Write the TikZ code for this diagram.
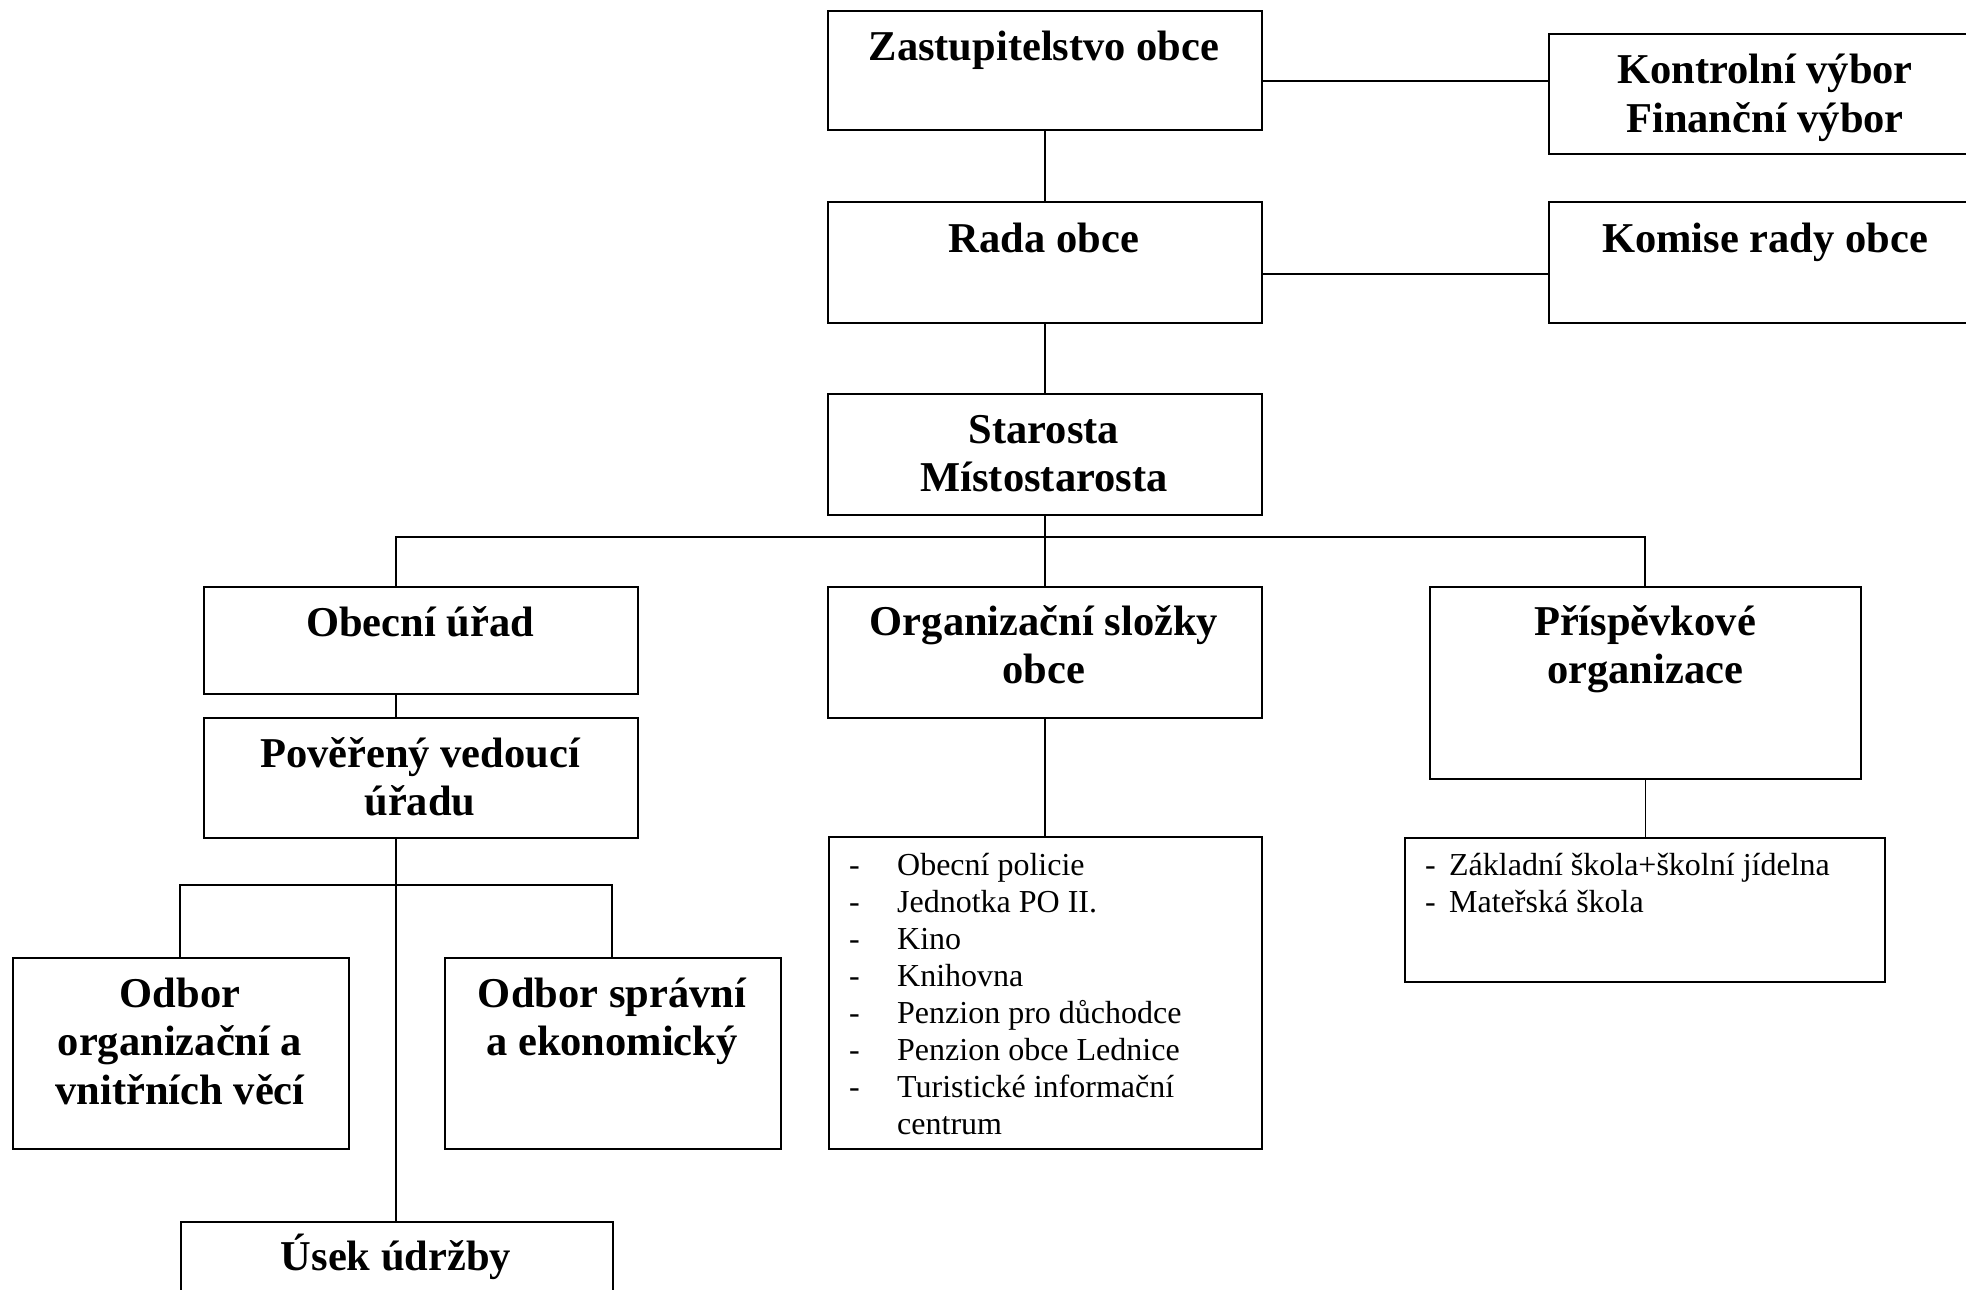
\documentclass[tikz,border=0pt]{standalone}
\usepackage{fontspec}
\setmainfont{Liberation Serif}
\newcommand{\ctab}[1]{\begin{tabular}[t]{@{}c@{}}#1\end{tabular}}
\newcommand{\ltab}[2]{\begin{tabular}[t]{@{}l@{}l@{}}#2\end{tabular}}
\newcommand{\bx}[5]{\node[box,minimum width=#4pt,minimum height=#5pt] (#1) at (#2,#3) {};}
\begin{document}
\begin{tikzpicture}[x=1pt,y=-1pt,
  box/.style={draw,line width=2pt,inner sep=0pt,anchor=north west},
  conn/.style={line width=1.8pt},
  ttl/.style={anchor=base,inner sep=0pt,font=\fontsize{42.5}{48.5}\selectfont\bfseries},
  lst/.style={anchor=base west,inner sep=0pt,font=\fontsize{32}{37}\selectfont}]
\path[use as bounding box] (0,0) rectangle (1966,1290);
\clip (0,0) rectangle (1966,1290);
\fill[white] (0,0) rectangle (1966,1290);
% boxes
\bx{zast}{827}{10}{434}{119}
\bx{kontrol}{1548}{33}{434}{120}
\bx{rada}{827}{201}{434}{121}
\bx{komise}{1548}{201}{434}{121}
\bx{starosta}{827}{393}{434}{121}
\bx{obecni}{203}{586}{434}{107}
\bx{orgsl}{827}{586}{434}{131}
\bx{prisp}{1429}{586}{431}{192}
\bx{poveren}{203}{717}{434}{120}
\bx{orglist}{828}{836}{433}{312}
\bx{prlist}{1404}{837}{480}{144}
\bx{odbororg}{12}{957}{336}{191}
\bx{odborspr}{444}{957}{336}{191}
\bx{usek}{180}{1221}{432}{110}
% helper coordinates
\coordinate (yzk) at (0,81);
\coordinate (yrk) at (0,274);
\coordinate (busL) at (396,537);
\coordinate (busR) at (1645,537);
\coordinate (bus2L) at (180,885);
\coordinate (bus2M) at (396,885);
\coordinate (bus2R) at (612,885);
% connectors
\draw[conn] (zast.east |- yzk) -- (kontrol.west |- yzk);
\draw[conn] (rada.east |- yrk) -- (komise.west |- yrk);
\draw[conn] (zast.south) -- (rada.north);
\draw[conn] (rada.south) -- (starosta.north);
\draw[conn] (starosta.south) -- (orgsl.north);
\draw[conn] (obecni.north -| busL) -- (busL) -- (busR) -- (prisp.north -| busR);
\draw[conn] (obecni.south -| busL) -- (poveren.north -| busL);
\draw[conn] (poveren.south -| busL) -- (usek.north -| busL);
\draw[conn] (odbororg.north -| bus2L) -- (bus2L) -- (bus2R) -- (odborspr.north -| bus2R);
\draw[conn] (orgsl.south) -- (orglist.north -| orgsl.south);
\draw[conn] (prisp.south) -- (prlist.north -| prisp.south);
% texts
\node[ttl] (tzast) at (1044,60) {\ctab{Zastupitelstvo obce}};
\node[ttl] (tkontrol) at (1765,84) {\ctab{Kontrolní výbor\\Finanční výbor}};
\node[ttl] (trada) at (1044,252) {\ctab{Rada obce}};
\node[ttl] (tkomise) at (1765,252) {\ctab{Komise rady obce}};
\node[ttl] (tstarosta) at (1044,443) {\ctab{Starosta\\Místostarosta}};
\node[ttl] (tobecni) at (420,636) {\ctab{Obecní úřad}};
\node[ttl] (torgsl) at (1044,635) {\ctab{Organizační složky\\obce}};
\node[ttl] (tprisp) at (1645,635) {\ctab{Příspěvkové\\organizace}};
\node[ttl] (tpoveren) at (420,767) {\ctab{Pověřený vedoucí\\úřadu}};
\node[ttl] (todbororg) at (180,1007) {\ctab{Odbor\\organizační a\\vnitřních věcí}};
\node[ttl] (todborspr) at (612,1007) {\ctab{Odbor správní\\a ekonomický}};
\node[ttl] (tusek) at (396,1270) {\ctab{Úsek údržby}};
\node[lst] (torglist) at (849,875) {\ltab{}{\makebox[48pt][l]{-}&Obecní policie\\
\makebox[48pt][l]{-}&Jednotka PO II.\\
\makebox[48pt][l]{-}&Kino\\
\makebox[48pt][l]{-}&Knihovna\\
\makebox[48pt][l]{-}&Penzion pro důchodce\\
\makebox[48pt][l]{-}&Penzion obce Lednice\\
\makebox[48pt][l]{-}&Turistické informační\\
&centrum}};
\node[lst] (tprlist) at (1425,875) {\ltab{}{\makebox[24pt][l]{-}&Základní škola+školní jídelna\\
\makebox[24pt][l]{-}&Mateřská škola}};
\end{tikzpicture}
\end{document}
